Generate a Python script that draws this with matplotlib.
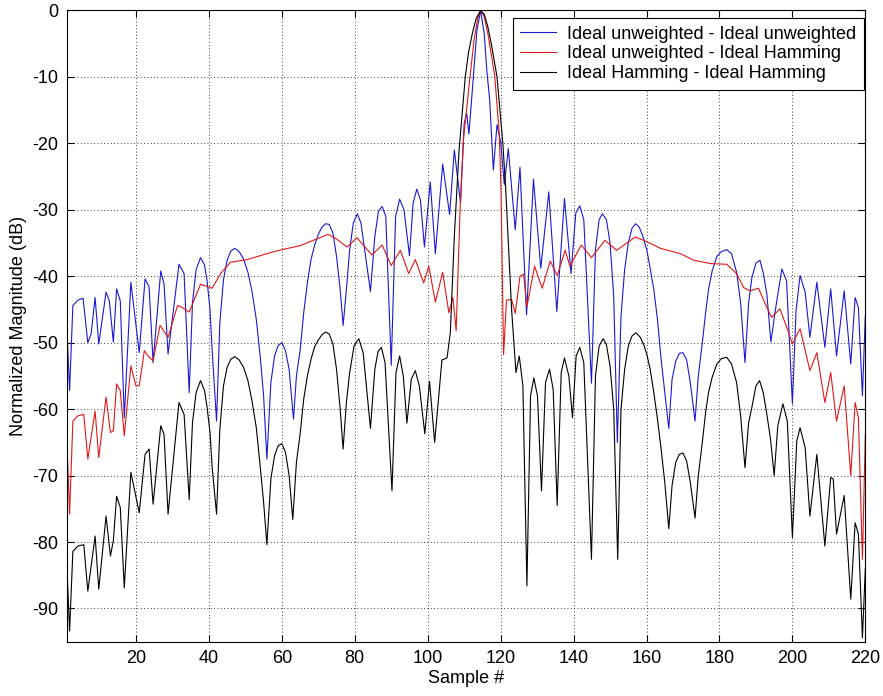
import matplotlib
matplotlib.use("Agg")
import matplotlib.pyplot as plt

plt.rcParams['font.family'] = ['Liberation Sans', 'DejaVu Sans']
plt.rcParams['axes.unicode_minus'] = False

# (sample #, dB) vertices
blue_pts = [
    (1, -47.2), (1.8, -57.2), (2.7, -44.4), (4.1, -43.6), (5.5, -43.3), (6.8, -50.0),
    (7.7, -48.7), (8.8, -43.2), (9.8, -50.2), (11.8, -42.4), (12.7, -43.7), (13.8, -49.9),
    (14.7, -41.9), (15.7, -43.7), (16.8, -61.3), (18.6, -40.9), (20.9, -51.5), (22.5, -40.4),
    (23.6, -41.6), (24.7, -53.0), (26.8, -39.2), (27.7, -41.2), (28.8, -51.7), (31.8, -38.2),
    (33.2, -39.6), (34.6, -57.5), (35.5, -44), (36.5, -39), (37.7, -37.2), (38.8, -38.3),
    (39.5, -40.7), (40.3, -45), (40.9, -51.2), (42.1, -61.8), (43, -47), (44, -40.5),
    (45, -37.6), (46, -36.2), (47.1, -35.8), (48.3, -36.3), (49.5, -37.4), (50.7, -39.4),
    (51.8, -42.2), (53, -46.5), (54.1, -52.2), (55, -58), (55.9, -67.5), (57, -56),
    (58, -52), (59, -50.4), (60, -50), (61, -51.2), (62, -54), (63.2, -61.5), (64, -55),
    (65, -51.2), (66, -45.5), (67, -41), (68, -37.5), (69, -35.3), (70, -33.7), (71, -32.6),
    (72, -32.1), (73, -32.2), (74, -33.5), (75, -37), (76, -42), (76.8, -47.4), (77.7, -42),
    (78.6, -36), (79.6, -32), (80.7, -30.6), (81.7, -32), (82.7, -36), (84.3, -42.3),
    (85.5, -34), (86.5, -30.2), (87.5, -29.5), (88.5, -31), (90, -53.4), (91.2, -31),
    (92.3, -28.4), (93.5, -30), (95, -36.9), (96, -29), (97, -26.9), (98, -28.5),
    (99.1, -35.6), (100.7, -25.8), (102.1, -36.6), (104.1, -23.1), (106, -30.7),
    (107.3, -21.0), (109, -29.0), (110, -17.0), (110.7, -15.5), (111.3, -18.6),
    (112.5, -10.0), (113.5, -3.0), (114.5, 0), (115.5, -3.5), (116.2, -9.0), (117, -13.5),
    (118, -24.0), (119, -17.2), (120, -19.8), (121, -26.2), (122.1, -20.8), (124, -33.0),
    (125.3, -23.6), (127.1, -45.8), (129, -25.4), (131, -38.8), (133.2, -27.3),
    (135.4, -45.3), (137.5, -28.3), (139.3, -39.6), (140.6, -30.5), (141.7, -29.4),
    (142.8, -31.5), (144.9, -56.1), (146, -36), (147, -31.5), (147.9, -30.6), (149, -31.5),
    (150, -35), (151, -43), (152, -65), (153, -46), (154, -39), (155, -35), (156, -32.8),
    (157, -32.1), (158, -32.6), (159, -34), (160.1, -36.1), (161, -38.8), (162, -42),
    (163, -46.5), (164, -52.5), (165, -57.5), (166.1, -62.9), (167, -55.5), (168, -52.8),
    (169, -51.6), (170, -51.5), (171, -52.6), (172, -56), (173.3, -61.8), (174.2, -55),
    (175.3, -50), (176.2, -45.5), (177, -42), (178, -39.2), (179.3, -37), (180.5, -36.3),
    (182, -36), (183.3, -36.6), (184.7, -39.4), (185.8, -44), (187, -53), (188, -44),
    (188.9, -40.2), (190, -38), (191.1, -37.6), (192, -39.5), (193, -42.7), (194.1, -49.9),
    (195.3, -45.2), (197.1, -38.9), (198.4, -40.7), (200, -59.2), (201, -45.2),
    (202.1, -39.9), (203.5, -42.4), (204.8, -49.2), (206.7, -40.9), (208.9, -50.7),
    (210.5, -41.9), (212.1, -52.0), (214.2, -42.2), (216, -53.2), (217.2, -43.2),
    (218.1, -44.7), (219.2, -58.0), (220, -45.9),
]

red_pts = [
    (1, -63.8), (1.8, -75.8), (2.7, -61.8), (4.1, -61.0), (5.7, -60.8), (6.8, -67.5),
    (8.8, -60.3), (9.8, -67.3), (11.8, -58.2), (13, -63.5), (13.8, -63.3), (14.7, -56.2),
    (15.7, -57.2), (16.8, -64.0), (18.6, -53.5), (20, -56.5), (20.9, -56.5), (22.3, -51.2),
    (23.6, -52.2), (24.7, -52.7), (26.6, -47.4), (28.8, -49.2), (31.4, -44.4), (32.7, -44.7),
    (34.6, -45.4), (37.7, -41.2), (40.9, -41.8), (43.2, -39.6), (45.9, -37.9), (50.5, -37.5),
    (55.9, -36.6), (60, -36.0), (65, -35.4), (68.6, -34.6), (72.7, -33.7), (75, -34.4),
    (77.9, -35.6), (80.6, -34.2), (84.7, -36.8), (87.5, -35.3), (90, -38.4), (92.5, -36.1),
    (94.8, -39.6), (96.6, -37.5), (98.9, -41.0), (100.3, -38.5), (102.1, -43.9),
    (104.1, -39.4), (105.8, -45.5), (106.9, -43.2), (107.8, -48.2), (108.9, -29.5),
    (109.8, -19.4), (111.6, -10.0), (112.7, -4.5), (113.7, -1.2), (114.5, 0),
    (115.5, -0.9), (116.5, -3.5), (117.5, -6.8), (118.4, -10.0), (119.6, -18.4),
    (120.1, -27.0), (120.8, -51.8), (121.6, -43.6), (123, -43.5), (124, -45.6),
    (125.3, -40.0), (126.3, -39.7), (127.2, -44.6), (129.3, -38.5), (131.4, -41.8),
    (133.6, -37.7), (135.5, -39.9), (137.7, -36.1), (139, -38.5), (142.1, -35.3),
    (144.9, -37.2), (148.6, -34.6), (151.8, -36.1), (156.9, -34.1), (160.1, -34.8),
    (163.8, -35.8), (169.3, -36.6), (173, -37.6), (177.6, -38.1), (182, -38.2),
    (184.7, -39.6), (186.6, -41.7), (188.4, -42.2), (190.7, -41.8), (193, -44.7),
    (194.3, -46.2), (196.6, -44.9), (198.9, -48.4), (200, -50.2), (202.1, -47.9),
    (204.8, -54.2), (206.7, -51.5), (208.9, -59.0), (210.5, -54.5), (212.1, -61.8),
    (214.2, -56.5), (216, -70.0), (217.2, -59.0), (218.1, -61.3), (219.2, -82.6),
    (220, -63.8),
]

black_pts = [
    (1, -82.9), (1.8, -93.4), (2.7, -81.4), (4.1, -80.6), (5.7, -80.4), (6.8, -87.4),
    (8.8, -79.1), (9.8, -87.1), (11.8, -76.1), (13, -82.1), (13.8, -79.8), (14.7, -73.1),
    (15.7, -74.8), (16.8, -86.9), (18.6, -69.5), (20.9, -75.6), (22.5, -66.8), (23.6, -66.0),
    (24.7, -74.3), (26.8, -62.5), (27.7, -63.8), (28.8, -75.8), (31.8, -59.0), (33.2, -60.8),
    (34.6, -73.6), (35.5, -62), (36.5, -57.5), (37.7, -55.7), (38.8, -57.2), (39.5, -59.7),
    (40.3, -63.5), (40.9, -68.8), (42.1, -75.8), (43, -63), (44, -56.5), (45, -53.7),
    (46, -52.5), (47.1, -52.1), (48.3, -52.6), (49.5, -53.7), (50.7, -55.7), (51.8, -58.7),
    (53, -62.8), (54.1, -68.8), (55, -74), (55.9, -80.4), (57, -70.5), (58, -67),
    (59, -65.5), (60, -65.2), (61, -66.5), (62, -70), (63, -76.6), (64, -68), (65, -63.8),
    (66, -58.5), (67, -55), (68, -52.5), (69, -50.6), (70, -49.6), (71, -48.8), (72, -48.4),
    (73, -48.7), (74, -50.2), (75, -54), (76, -60), (76.8, -66), (77.7, -59), (78.6, -54.5),
    (79.8, -50.5), (81.1, -49.4), (82.3, -51.5), (84.3, -62.9), (85.5, -54), (86.4, -51.3),
    (87.3, -50.7), (88.3, -53), (90.2, -72.3), (91.3, -54.5), (92.3, -52.0), (93.3, -55),
    (94.3, -62.1), (95.5, -55.5), (96.6, -54.2), (97.7, -56.5), (99.2, -63.7),
    (100.5, -55.8), (101.9, -65.0), (103.9, -52.6), (105.3, -52.3), (106.2, -48.5),
    (107.3, -34.0), (108.6, -21.0), (110.3, -10.0), (111.2, -6.3), (112.3, -3.3),
    (113.3, -1.2), (114.5, 0), (115.5, -0.6), (116.5, -2.5), (117.5, -5.2), (119, -10.0),
    (120.6, -20.0), (121.4, -27.0), (123, -45.0), (124.2, -54.5), (125.1, -52.0),
    (126.1, -56.5), (127.2, -86.6), (128.2, -58), (129.1, -55.3), (130.1, -58),
    (131.2, -72.3), (132.3, -56), (133.4, -54.0), (134.4, -57), (135.5, -74.5),
    (136.6, -54.5), (137.5, -52.3), (138.7, -55), (139.7, -61.3), (140.7, -52),
    (141.7, -50.7), (142.8, -53), (144.9, -82.6), (146, -55), (147, -50.5), (148.1, -49.4),
    (149, -50.3), (150, -53.5), (151, -60), (152.1, -82.6), (153, -60), (154, -54),
    (155, -50.5), (156, -49), (157.1, -48.5), (158.3, -49.2), (159.3, -50.4), (160.1, -51.8),
    (161, -54), (162, -57.5), (163, -61.5), (164, -66), (165, -71), (166.1, -78),
    (167, -71.5), (168, -68), (169, -66.8), (170, -66.6), (171, -67.8), (172, -71),
    (173.3, -76.4), (174.2, -70), (175.3, -65), (176.2, -60.5), (177, -57.5), (178, -55.2),
    (179.3, -53.2), (180.5, -52.4), (182, -52.2), (183.3, -53.2), (184.7, -56),
    (185.8, -61), (187, -68.8), (188, -62), (188.9, -59.7), (190, -56.5), (191, -55.7),
    (192, -57.5), (193, -60.8), (194, -64.5), (195, -70), (196, -62.5), (197.4, -59.2),
    (198.6, -61.8), (200, -79.3), (201.2, -64.8), (202.1, -62.8), (203.5, -65.8),
    (204.8, -76.1), (206.7, -66.8), (208.9, -80.6), (210.5, -70.3), (211.2, -70.5),
    (212.1, -78.8), (214.2, -73.0), (216, -88.6), (217.2, -77.1), (218.1, -78.8),
    (219.2, -94.4), (220, -83.9),
]

labels = ['Ideal unweighted - Ideal unweighted',
          'Ideal unweighted - Ideal Hamming',
          'Ideal Hamming - Ideal Hamming']
colors = ['#1a1ad0', '#e01818', 'black']
x_ticks = list(range(20, 221, 20))
y_ticks = list(range(-90, 1, 10))

fig = plt.figure(figsize=(8.83, 6.96), dpi=100)
ax = fig.add_axes([0.0755, 0.078, 0.9045, 0.907])

for pts, c, lab in zip([blue_pts, red_pts, black_pts], colors, labels):
    xs, ys = zip(*pts)
    ax.plot(xs, ys, color=c, lw=0.8, label=lab)

ax.set_xlim(1, 220)
ax.set_ylim(-95, 0)
ax.set_xticks(x_ticks)
ax.set_yticks(y_ticks)
ax.grid(True, linestyle=(0, (1, 3)), color='black', lw=0.6)
ax.tick_params(direction='in', top=True, right=True, length=5, labelsize=13, pad=6)
for s in ax.spines.values():
    s.set_linewidth(0.8)

ax.set_xlabel('Sample #', fontsize=13, labelpad=2)
ax.set_ylabel('Normalized Magnitude (dB)', fontsize=13, labelpad=4)

leg = ax.legend(loc='upper right', bbox_to_anchor=(864 / 883, 1 - 18 / 696),
                bbox_transform=fig.transFigure, borderaxespad=0, fontsize=13,
                fancybox=False, framealpha=1, edgecolor='black', handlelength=2.0,
                handletextpad=0.6, labelspacing=0.15, borderpad=0.42)
leg.get_frame().set_linewidth(0.8)

fig.savefig('out.png', dpi=100)
